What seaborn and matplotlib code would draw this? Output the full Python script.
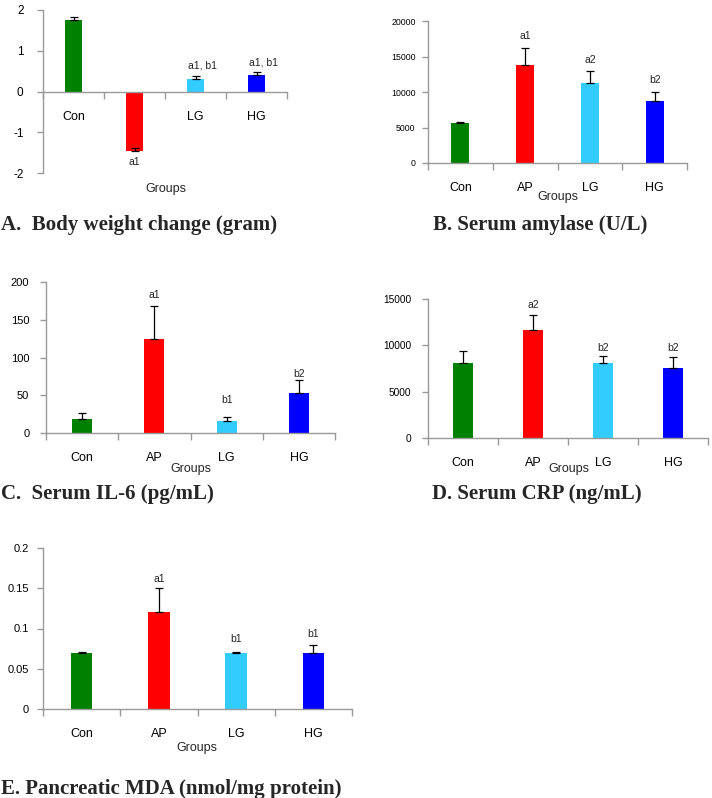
import matplotlib
matplotlib.use("Agg")
import matplotlib.pyplot as plt
import seaborn as sns
import pandas as pd
from matplotlib.ticker import FixedLocator, NullFormatter

# ---------------- data ----------------
groups = ["Con", "AP", "LG", "HG"]
colors = ["#008000", "#FF0000", "#33CCFF", "#0000FF"]

bw_values = [1.75, -1.45, 0.30, 0.40]
bw_errors = [0.08, 0.07, 0.08, 0.08]
bw_labels = ["", "a1", "a1, b1", "a1, b1"]
bw_label_y = [None, -1.73, 0.64, 0.72]

amy_values = [5650, 13800, 11250, 8700]
amy_errors = [150, 2450, 1750, 1300]
amy_labels = ["", "a1", "a2", "b2"]
amy_label_y = [None, 17900, 14500, 11700]

il6_values = [18.5, 125, 16, 53]
il6_errors = [8, 43.5, 5, 17]
il6_labels = ["", "a1", "b1", "b2"]
il6_label_y = [None, 183, 44, 78]

crp_values = [8050, 11650, 8050, 7600]
crp_errors = [1300, 1600, 780, 1120]
crp_labels = ["", "a2", "b2", "b2"]
crp_label_y = [None, 14400, 9700, 9700]

mda_values = [0.070, 0.120, 0.070, 0.070]
mda_errors = [0.0005, 0.030, 0.0005, 0.010]
mda_labels = ["", "a1", "b1", "b1"]
mda_label_y = [None, 0.162, 0.087, 0.093]

titles = ["A.  Body weight change (gram)", "B. Serum amylase (U/L)",
          "C.  Serum IL-6 (pg/mL)", "D. Serum CRP (ng/mL)",
          "E. Pancreatic MDA (nmol/mg protein)"]

# ---------------- figure ----------------
sns.set_theme(style="white")
plt.rcParams["font.family"] = ["Liberation Sans", "DejaVu Sans"]

W, H = 712, 798
fig = plt.figure(figsize=(W / 100, H / 100), dpi=100)


def px(x, y):
    return x / W, 1 - y / H


def make_axes(l, r, t, b):
    return fig.add_axes([l / W, 1 - b / H, (r - l) / W, (b - t) / H])


AXCOL = "#999999"


def panel(ax, values, errors, labels, label_y, ylim, yticks, ytick_fs,
          ypad, zero_spine=False):
    df = pd.DataFrame({"group": groups, "value": values})
    sns.barplot(data=df, x="group", y="value", hue="group", palette=colors,
                width=0.28, saturation=1, legend=False, ax=ax,
                order=groups, hue_order=groups, linewidth=0)
    xs = [p.get_x() + p.get_width() / 2 for p in ax.patches]
    ax.errorbar(xs, values, yerr=[[0] * len(values), errors], fmt="none",
                ecolor="black", elinewidth=0.9, capsize=3.2, capthick=0.9,
                zorder=5)
    for x, lab, ly in zip(xs, labels, label_y):
        if lab:
            dx = 0.12 if "," in lab else 0
            ax.text(x + dx, ly, lab, ha="center", va="center", fontsize=7.5,
                    color="#222222")
    ax.set_xlim(-0.5, 3.5)
    ax.set_ylim(*ylim)
    ax.set_yticks(yticks)
    ax.set_yticklabels([f"{v:g}" for v in yticks])
    ax.set_xlabel("")
    ax.set_ylabel("")
    for s in ["top", "right"]:
        ax.spines[s].set_visible(False)
    for s in ["left", "bottom"]:
        ax.spines[s].set_color(AXCOL)
        ax.spines[s].set_linewidth(1.0)
    if zero_spine:
        ax.spines["bottom"].set_position(("data", 0))
    ax.xaxis.set_minor_locator(FixedLocator([-0.5, 0.5, 1.5, 2.5, 3.5]))
    ax.xaxis.set_minor_formatter(NullFormatter())
    ax.tick_params(axis="x", which="major", length=0, pad=14, labelsize=9,
                   labelcolor="black")
    ax.tick_params(axis="x", which="minor", length=5, width=1, color=AXCOL,
                   direction="out", bottom=True)
    ax.tick_params(axis="y", which="major", length=4, width=1, color=AXCOL,
                   direction="out", left=True, labelsize=ytick_fs, pad=ypad,
                   labelcolor="black")
    ax.set_facecolor("none")
    ax.grid(False)


axA = make_axes(43, 287, 10, 173)
panel(axA, bw_values, bw_errors, bw_labels, bw_label_y, (-2, 2),
      [-2, -1, 0, 1, 2], 8.5, 10, zero_spine=True)

axB = make_axes(428, 687, 21, 163)
panel(axB, amy_values, amy_errors, amy_labels, amy_label_y, (0, 20000),
      [0, 5000, 10000, 15000, 20000], 6.3, 5)

axC = make_axes(46, 335, 282, 433)
panel(axC, il6_values, il6_errors, il6_labels, il6_label_y, (0, 200),
      [0, 50, 100, 150, 200], 8, 8)

axD = make_axes(428, 708, 299, 438)
panel(axD, crp_values, crp_errors, crp_labels, crp_label_y, (0, 15000),
      [0, 5000, 10000, 15000], 7.3, 8)

axE = make_axes(43, 352, 548, 709)
panel(axE, mda_values, mda_errors, mda_labels, mda_label_y, (0, 0.2),
      [0, 0.05, 0.1, 0.15, 0.2], 8, 6)

# "Groups" x-axis titles
for (x, y) in [(166, 189), (558, 197), (191, 469), (569, 469), (197, 748)]:
    fig.text(*px(x, y), "Groups", ha="center", va="center", fontsize=9)

# panel titles
title_font = dict(fontsize=15, fontweight="bold",
                  family=["Liberation Serif", "DejaVu Serif"], va="center")
fig.text(*px(1, 225), titles[0], ha="left", **title_font)
fig.text(*px(540, 225), titles[1], ha="center", **title_font)
fig.text(*px(1, 494), titles[2], ha="left", **title_font)
fig.text(*px(537, 494), titles[3], ha="center", **title_font)
fig.text(*px(1, 789), titles[4], ha="left", **title_font)

fig.savefig("out.png", dpi=100, facecolor="white")
